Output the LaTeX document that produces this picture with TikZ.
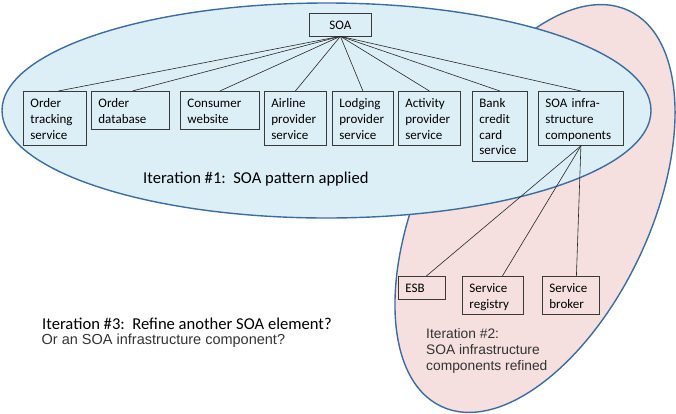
\documentclass[tikz,border=0pt]{standalone}
\usepackage{fontspec}
\setmainfont{Carlito}
\newfontfamily\arialf{Liberation Sans}
\definecolor{bluefill}{HTML}{DDEFF6}
\definecolor{pinkfill}{HTML}{F5DFDF}
\definecolor{edgeblue}{HTML}{3D6DA0}
\definecolor{boxline}{HTML}{3A3A3A}
\definecolor{graytext}{HTML}{333333}
\newcommand\tstr{\rule{0pt}{16pt}}
\newcommand\bstr{\rule[-6.5pt]{0pt}{6.5pt}}
\begin{document}
\begin{tikzpicture}[x=1pt,y=-1pt,
  compbox/.style={draw=boxline, line width=0.8pt, anchor=north west, inner xsep=7pt, inner ysep=0pt, align=left, font=\fontsize{13}{15.8}\selectfont},
  link/.style={draw=black!85, line width=0.6pt},
  region/.style={draw=edgeblue, line width=1.4pt},
  bigcap/.style={inner sep=0pt, anchor=base west, font=\fontsize{16.6}{19}\selectfont},
  smallcap/.style={inner sep=0pt, text=graytext, font=\arialf\fontsize{14.5}{16}\selectfont}]
\useasboundingbox (0,0) rectangle (676,413);
% regions
\path[region, fill=pinkfill, rotate around={64.6:(535,208.5)}] (535,208.5) ellipse [x radius=219, y radius=115];
\path[region, fill=bluefill] (326.5,110.5) ellipse [x radius=324.5, y radius=107.5];
% boxes
\node[compbox, align=center, text width=48pt] (soa) at (309,13) {\tstr SOA\bstr};
\node[compbox, text width=49pt] (ot) at (23,91) {\tstr Order\\tracking\\service\bstr};
\node[compbox, text width=64pt] (od) at (91,91) {\tstr Order\\database\bstr};
\node[compbox, text width=65pt] (cw) at (180,91) {\tstr Consumer\\website\bstr};
\node[compbox, text width=48pt] (ap) at (264,91) {\tstr Airline\\provider\\service\bstr};
\node[compbox, text width=47pt] (lp) at (332,91) {\tstr Lodging\\provider\\service\bstr};
\node[compbox, text width=48pt] (acp) at (398,91) {\tstr Activity\\provider\\service\bstr};
\node[compbox, text width=41pt] (bank) at (472,91) {\tstr Bank\\credit\\card\\service\bstr};
\node[compbox, text width=71pt] (infra) at (538,91) {\tstr SOA infra-\\structure\\components\bstr};
\node[compbox, text width=33pt] (esb) at (398,276) {\tstr ESB\bstr};
\node[compbox, text width=47pt] (reg) at (462,276) {\tstr Service\\registry\bstr};
\node[compbox, text width=43pt] (brk) at (542,276) {\tstr Service\\broker\bstr};
% connectors
\draw[link] (soa.south) -- ([xshift=3.5pt]ot.north);
\draw[link] (soa.south) -- ([xshift=2pt]od.north);
\draw[link] (soa.south) -- (cw.north);
\draw[link] (soa.south) -- (ap.north);
\draw[link] (soa.south) -- (lp.north);
\draw[link] (soa.south) -- (acp.north);
\draw[link] (soa.south) -- (bank.north);
\draw[link] (soa.south) -- (infra.north);
\draw[link] (infra.south) -- ([xshift=4.5pt]esb.north);
\draw[link] (infra.south) -- ([xshift=9.5pt]reg.north);
\draw[link] (infra.south) -- ([xshift=5.5pt]brk.north);
% captions
\node[bigcap] (it1) at (143,183) {Iteration \#1:~~SOA pattern applied};
\node[bigcap] (it3) at (42,329) {Iteration \#3:~~Refine another SOA element?};
\node[smallcap, anchor=base west] (it3b) at (41.5,344.5) {Or an SOA infrastructure component?};
\node[smallcap, anchor=north west, align=left, font=\arialf\fontsize{13.8}{16}\selectfont] (it2) at (426,326) {\rule{0pt}{12pt}Iteration \#2:\\SOA infrastructure\\components refined};
\end{tikzpicture}
\end{document}
